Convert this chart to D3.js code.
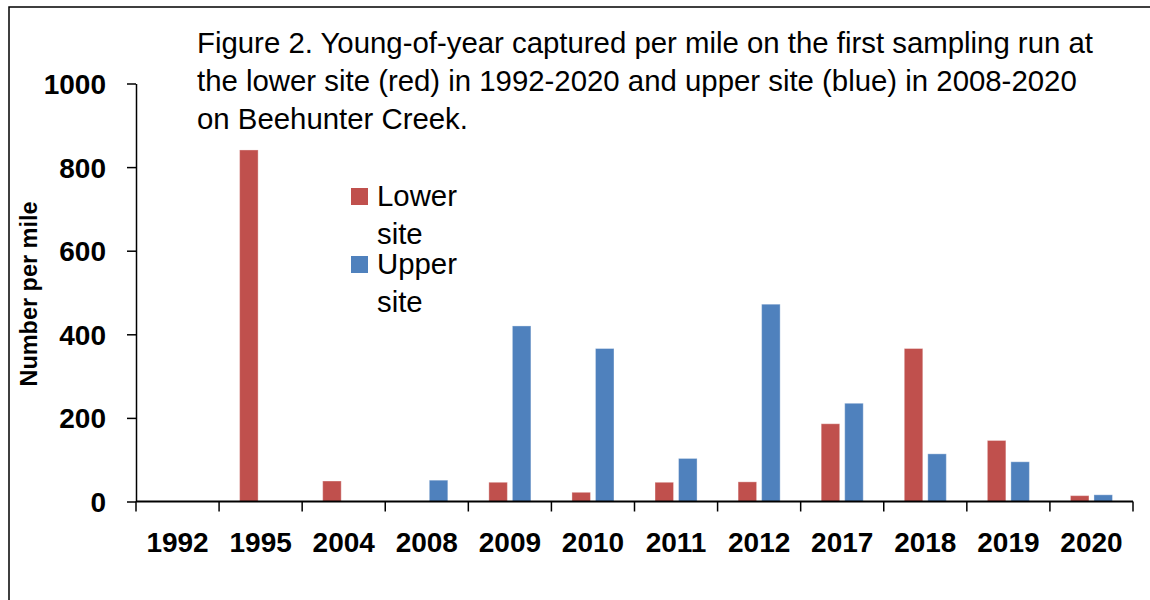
<!DOCTYPE html>
<html>
<head>
<meta charset="utf-8">
<script src="https://cdn.jsdelivr.net/npm/d3@7"></script>
<style>
  html, body { margin: 0; padding: 0; background: #fff; }
  svg { display: block; font-family: "Liberation Sans", Arial, sans-serif; }
</style>
</head>
<body>
<svg id="chart" width="1150" height="600"></svg>
<script>
const categories = ["1992", "1995", "2004", "2008", "2009", "2010", "2011", "2012", "2017", "2018", "2019", "2020"];
const lowerSite = [null, 841, 49, null, 46, 22, 46, 47, 186, 366, 146, 14];
const upperSite = [null, null, null, 51, 420, 366, 103, 472, 235, 114, 95, 16];
const seriesNames = ["Lower site", "Upper site"];
const seriesColors = ["#C0504D", "#4F81BD"];
const yTicks = [0, 200, 400, 600, 800, 1000];
const titleLines = [
  "Figure 2. Young-of-year captured per mile on the first sampling run at",
  "the lower site (red) in 1992-2020 and upper site (blue) in 2008-2020",
  "on Beehunter Creek."
];
const yTitle = "Number per mile";

const svg = d3.select("#chart");

function fitWidth(sel, target) {
  const node = sel.node();
  const fs = parseFloat(sel.attr("font-size"));
  const w = node.getComputedTextLength();
  sel.attr("font-size", (fs * target / w).toFixed(2));
}

// frame border
svg.append("path")
  .attr("d", "M9,620 L9,7 L1170,7")
  .attr("fill", "none").attr("stroke", "#000").attr("stroke-width", 1.5);

const plot = { left: 136, right: 1133, top: 83.5, bottom: 501.5 };

const x0 = d3.scaleBand().domain(categories).range([plot.left, plot.right]).paddingInner(0).paddingOuter(0);
const bw = x0.bandwidth();
const x1 = d3.scaleBand().domain(seriesNames).range([bw * 0.247, bw * 0.753]).paddingInner(0.213).paddingOuter(0);
const y = d3.scaleLinear().domain([0, 1000]).range([plot.bottom, plot.top]);

// bars
const seriesData = [lowerSite, upperSite];
seriesData.forEach((vals, si) => {
  svg.append("g").selectAll("rect")
    .data(categories.map((c, i) => ({ c, v: vals[i] })).filter(d => d.v != null))
    .join("rect")
    .attr("x", d => x0(d.c) + x1(seriesNames[si]))
    .attr("width", x1.bandwidth())
    .attr("y", d => y(d.v))
    .attr("height", d => y(0) - y(d.v))
    .attr("fill", seriesColors[si])
    .attr("stroke", "rgba(255,255,255,0.35)")
    .attr("stroke-width", 1);
});

// y axis
const yAxis = d3.axisLeft(y).tickValues(yTicks).tickFormat(d3.format("d")).tickSize(9).tickSizeOuter(0).tickPadding(21);
const gy = svg.append("g").attr("transform", `translate(${plot.left},0)`).call(yAxis);
gy.select(".domain").attr("stroke", "#000").attr("stroke-width", 1.5);
gy.selectAll(".tick line").attr("stroke", "#000").attr("stroke-width", 1.5);
gy.selectAll(".tick text")
  .attr("font-family", "'Liberation Sans', Arial, sans-serif")
  .attr("font-weight", "bold").attr("font-size", 28).attr("fill", "#000")
  .attr("dy", "0.36em");

// x axis
const xAxis = d3.axisBottom(x0).tickSize(0).tickPadding(31);
const gx = svg.append("g").attr("transform", `translate(0,${plot.bottom})`).call(xAxis);
gx.select(".domain").attr("stroke", "#000").attr("stroke-width", 2).attr("d", `M${plot.left},0H${plot.right}`);
gx.selectAll(".tick text")
  .attr("font-family", "'Liberation Sans', Arial, sans-serif")
  .attr("font-weight", "bold").attr("font-size", 28).attr("fill", "#000")
  .attr("dy", "0.71em");
// category boundary ticks
const boundaries = categories.map(c => x0(c)).concat([plot.right]);
svg.append("g").selectAll("line").data(boundaries).join("line")
  .attr("x1", d => d).attr("x2", d => d)
  .attr("y1", plot.bottom).attr("y2", plot.bottom + 10)
  .attr("stroke", "#000").attr("stroke-width", 1.5);

// y title
const yt = svg.append("text")
  .attr("transform", "translate(37,294) rotate(-90)")
  .attr("text-anchor", "middle")
  .attr("font-weight", "bold").attr("font-size", 20).attr("fill", "#000")
  .text(yTitle);
fitWidth(yt, 185);

// title
const baselines = [53, 91, 128.5];
const tl = titleLines.map((t, i) => svg.append("text")
  .attr("x", 197).attr("y", baselines[i])
  .attr("font-size", 26).attr("fill", "#000").text(t));
fitWidth(tl[0], 896);
const tfs = tl[0].attr("font-size");
tl.forEach(t => t.attr("font-size", tfs));

// legend
const legend = svg.append("g");
const legY = [188, 256];
const legLines = [["Lower", "site"], ["Upper", "site"]];
seriesNames.forEach((s, i) => {
  legend.append("rect").attr("x", 351).attr("y", legY[i]).attr("width", 17).attr("height", 17)
    .attr("fill", seriesColors[i]);
  legend.append("text").attr("x", 377).attr("y", legY[i] + 18)
    .attr("font-size", tfs).attr("fill", "#000").text(legLines[i][0]);
  legend.append("text").attr("x", 377).attr("y", legY[i] + 56)
    .attr("font-size", tfs).attr("fill", "#000").text(legLines[i][1]);
});
</script>
</body>
</html>
